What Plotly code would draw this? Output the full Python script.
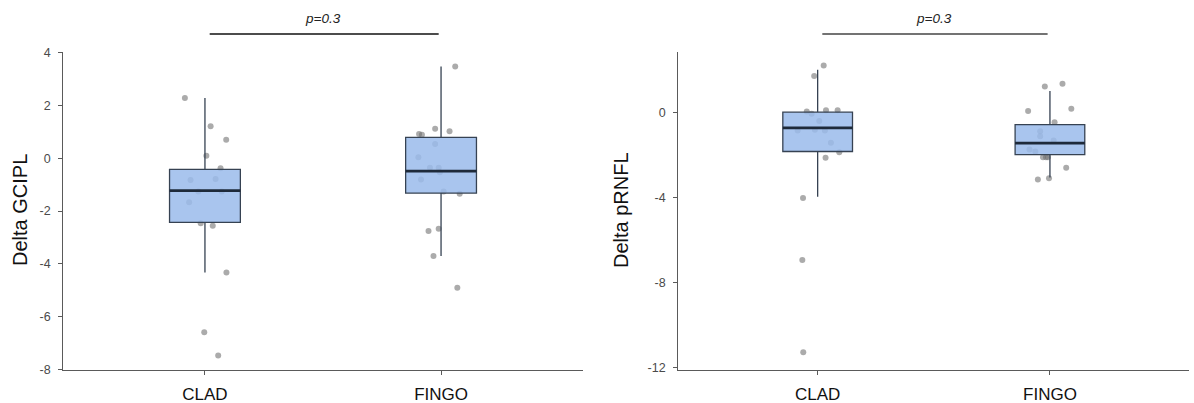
import plotly.graph_objects as go

# ---------------- data ----------------
groups = ["CLAD", "FINGO"]

gcipl_clad = [2.29, 1.21, 0.70, 0.10, -0.38, -0.82, -0.79, -1.26, -1.26, -1.67, -2.46, -2.56, -4.33, -6.60, -7.48]
gcipl_clad_jitter = [-0.085, 0.024, 0.090, 0.006, 0.066, -0.061, 0.045, -0.028, 0.071, -0.067, -0.018, 0.033, 0.091, -0.003, 0.056]
gcipl_fingo = [3.48, 1.12, 1.02, 0.92, 0.89, 0.54, 0.04, -0.36, -0.36, -0.53, -0.81, -1.26, -1.35, -2.67, -2.76, -3.71, -4.91]
gcipl_fingo_jitter = [0.060, -0.025, 0.036, -0.093, -0.081, -0.025, -0.096, -0.047, -0.010, -0.005, -0.085, 0.011, 0.079, -0.010, -0.053, -0.032, 0.069]

gcipl_q1 = [-2.43, -1.32]
gcipl_median = [-1.23, -0.49]
gcipl_q3 = [-0.42, 0.79]
gcipl_lower = [-4.33, -3.71]
gcipl_upper = [2.29, 3.48]

prnfl_clad = [2.19, 1.70, 0.09, 0.09, 0.03, -0.08, -0.42, -0.86, -0.83, -0.86, -1.44, -1.89, -2.15, -4.04, -6.95, -11.29]
prnfl_clad_jitter = [0.026, -0.015, 0.036, 0.086, -0.047, -0.026, 0.007, -0.086, -0.012, 0.031, 0.057, 0.093, 0.034, -0.063, -0.066, -0.062]
prnfl_fingo = [1.21, 1.34, 0.05, 0.16, -0.47, -0.90, -1.13, -1.33, -1.76, -1.85, -2.12, -2.12, -2.12, -2.61, -3.17, -3.11]
prnfl_fingo_jitter = [-0.022, 0.054, -0.094, 0.092, 0.020, -0.042, -0.042, 0.016, -0.088, -0.063, -0.030, -0.017, -0.009, 0.070, -0.052, -0.004]

prnfl_q1 = [-1.85, -2.00]
prnfl_median = [-0.74, -1.46]
prnfl_q3 = [0.00, -0.59]
prnfl_lower = [-3.98, -3.07]
prnfl_upper = [2.00, 0.99]

gcipl_ticks = [4, 2, 0, -2, -4, -6, -8]
gcipl_ticktext = ["4", "2", "0", "-2", "-4", "-6", "-8"]
prnfl_ticks = [0, -4, -8, -12]
prnfl_ticktext = ["0", "-4", "-8", "-12"]

p_label = "p=0.3"
titles = ["Delta GCIPL", "Delta pRNFL"]

# ---------------- style ----------------
W, H = 1194, 403
FONT = "Liberation Sans, Arial, Helvetica, sans-serif"
BOX_WIDTH = 0.3
BOX_FILL = "rgba(154,187,235,0.85)"
BOX_LINE = "#364252"
MEDIAN_LINE = "#1e2a3a"
POINT_COLOR = "rgba(110,110,110,0.58)"
AXIS_COLOR = "#5a5a5a"

fig = go.Figure()

panels = [
    dict(xa="x", ya="y", oxa="x3", oya="y3",
         pts=[(gcipl_clad, gcipl_clad_jitter), (gcipl_fingo, gcipl_fingo_jitter)],
         q1=gcipl_q1, med=gcipl_median, q3=gcipl_q3, lo=gcipl_lower, hi=gcipl_upper),
    dict(xa="x2", ya="y2", oxa="x4", oya="y4",
         pts=[(prnfl_clad, prnfl_clad_jitter), (prnfl_fingo, prnfl_fingo_jitter)],
         q1=prnfl_q1, med=prnfl_median, q3=prnfl_q3, lo=prnfl_lower, hi=prnfl_upper),
]

for p in panels:
    # jittered points (base subplot, beneath boxes)
    for gi, (vals, jit) in enumerate(p["pts"]):
        fig.add_trace(go.Scatter(
            x=[gi + j for j in jit], y=vals, mode="markers",
            marker=dict(size=6, color=POINT_COLOR, line=dict(width=0)),
            xaxis=p["xa"], yaxis=p["ya"], showlegend=False, hoverinfo="skip"))
    # boxes (overlay subplot, above points)
    fig.add_trace(go.Box(
        x=list(range(len(groups))), q1=p["q1"], median=p["med"], q3=p["q3"],
        lowerfence=p["lo"], upperfence=p["hi"], width=BOX_WIDTH, whiskerwidth=0,
        fillcolor=BOX_FILL, line=dict(color=BOX_LINE, width=1.3),
        boxpoints=False, xaxis=p["oxa"], yaxis=p["oya"], showlegend=False,
        hoverinfo="skip"))
    # thicker median bars
    for gi, m in enumerate(p["med"]):
        fig.add_trace(go.Scatter(
            x=[gi - BOX_WIDTH / 2, gi + BOX_WIDTH / 2], y=[m, m], mode="lines",
            line=dict(color=MEDIAN_LINE, width=2.8),
            xaxis=p["oxa"], yaxis=p["oya"], showlegend=False, hoverinfo="skip"))

xl = [63.3 / W, 582.7 / W]
xr = [678.3 / W, 1189.3 / W]
XR = [-0.6, 1.6]
YR1 = [-8.03, 4.03]
YR2 = [-12.13, 2.83]

xcommon = dict(range=XR, tickvals=[0, 1], ticktext=groups, showline=True,
               linecolor=AXIS_COLOR, linewidth=1.3, ticks="outside", ticklen=4,
               tickcolor=AXIS_COLOR, tickwidth=1.2, showgrid=False, zeroline=False,
               tickfont=dict(family=FONT, size=17, color="#111111"),
               ticklabelstandoff=4, automargin=False)
ycommon = dict(showline=True, linecolor=AXIS_COLOR, linewidth=1.3, ticks="outside",
               ticklen=4, tickcolor=AXIS_COLOR, tickwidth=1.2, showgrid=False,
               zeroline=False, tickfont=dict(family=FONT, size=12.5, color="#4a4a4a"),
               ticklabelstandoff=5, automargin=False)
hidden = dict(visible=False, showgrid=False, zeroline=False)

fig.update_layout(
    width=W, height=H,
    margin=dict(l=0, r=0, t=52, b=33, pad=0, autoexpand=False),
    paper_bgcolor="white", plot_bgcolor="rgba(0,0,0,0)",
    font=dict(family=FONT),
    xaxis=dict(domain=xl, anchor="y", **xcommon),
    yaxis=dict(domain=[0, 1], anchor="x", range=YR1, tickvals=gcipl_ticks,
               ticktext=gcipl_ticktext, **ycommon),
    xaxis2=dict(domain=xr, anchor="y2", **xcommon),
    yaxis2=dict(domain=[0, 1], anchor="x2", range=YR2, tickvals=prnfl_ticks,
                ticktext=prnfl_ticktext, **ycommon),
    xaxis3=dict(overlaying="x", anchor="y3", range=XR, **hidden),
    yaxis3=dict(overlaying="y", anchor="x3", range=YR1, **hidden),
    xaxis4=dict(overlaying="x2", anchor="y4", range=XR, **hidden),
    yaxis4=dict(overlaying="y2", anchor="x4", range=YR2, **hidden),
    boxgap=0, boxmode="overlay",
)

# significance bars and p labels
sig_y = 1 + (52 - 34) / 318
txt_y = 1 + (52 - 19) / 318
for xa, col in [("x", "#111111"), ("x2", "#444444")]:
    fig.add_shape(type="line", xref=xa, yref="paper", x0=0.02, x1=0.99,
                  y0=sig_y, y1=sig_y, line=dict(color=col, width=1.5))
    fig.add_annotation(xref=xa, yref="paper", x=0.5, y=txt_y, text="<i>" + p_label + "</i>",
                       showarrow=False, font=dict(family=FONT, size=13.5, color="#222222"),
                       xanchor="center", yanchor="middle")

# y-axis titles
for xpx, t in [(20, titles[0]), (621, titles[1])]:
    fig.add_annotation(xref="paper", yref="paper", x=xpx / W, y=(370 - 210) / 318,
                       text=t, textangle=-90, showarrow=False,
                       font=dict(family=FONT, size=20, color="#111111"),
                       xanchor="center", yanchor="middle")

fig.write_html("out.html")
